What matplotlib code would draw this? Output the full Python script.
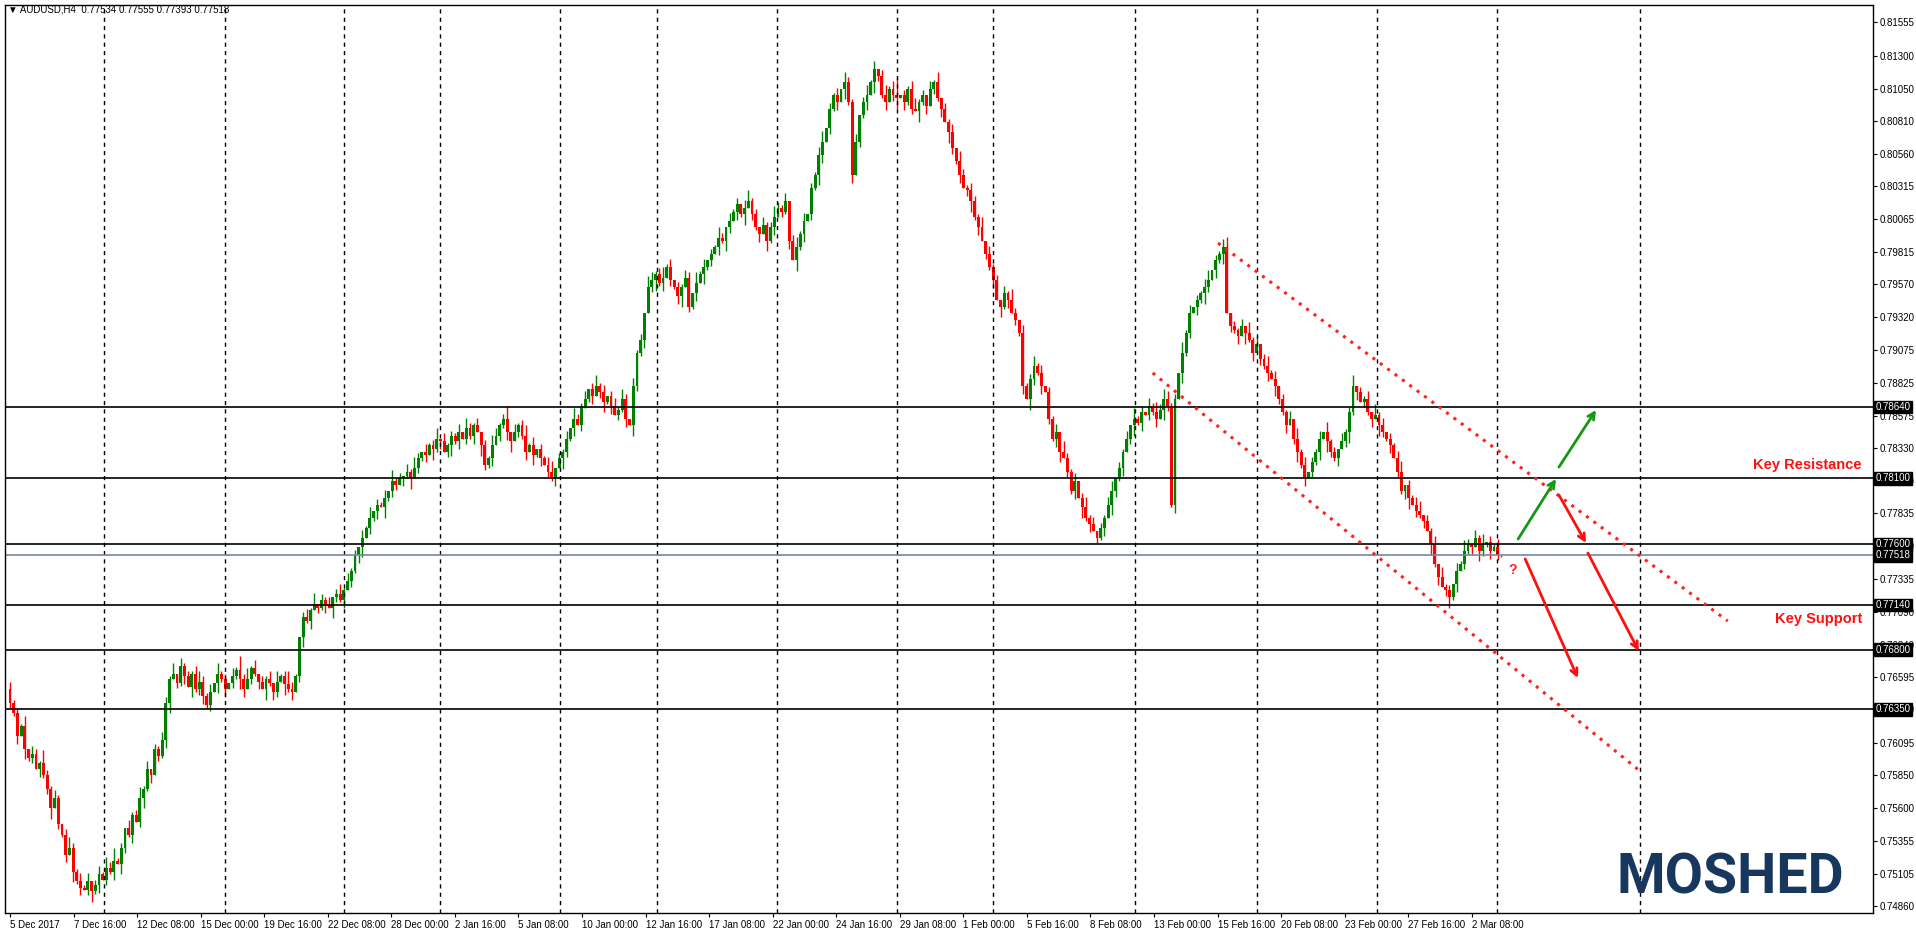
import matplotlib
matplotlib.use("Agg")
import matplotlib.pyplot as plt
import matplotlib.transforms as mtransforms

plt.rcParams["font.family"] = ["Liberation Sans", "DejaVu Sans"]

# closes in pips (x 0.0001), 4h bars from 5 Dec 2017
closes = [
    7640, 7632, 7615, 7622, 7605, 7598, 7601, 7590, 7594, 7585,
    7575, 7560, 7568, 7548, 7540, 7525, 7530, 7512, 7505, 7500,
    7498, 7505, 7497, 7502, 7510, 7506, 7515, 7512, 7520, 7518,
    7530, 7545, 7540, 7555, 7550, 7568, 7575, 7590, 7585, 7605,
    7600, 7612, 7640, 7658, 7662, 7655, 7668, 7660, 7652, 7662,
    7650, 7656, 7645, 7638, 7648, 7655, 7662, 7658, 7650, 7655,
    7660, 7665, 7658, 7650, 7658, 7666, 7662, 7656, 7650, 7658,
    7655, 7648, 7656, 7660, 7654, 7650, 7648, 7660, 7690, 7705,
    7702, 7710, 7715, 7712, 7718, 7714, 7712, 7720, 7722, 7718,
    7725, 7732, 7740, 7752, 7758, 7765, 7772, 7780, 7785, 7790,
    7788, 7795, 7800, 7808, 7805, 7810, 7812, 7815, 7810, 7818,
    7825, 7830, 7828, 7835, 7832, 7840, 7838, 7830, 7835, 7842,
    7838, 7845, 7840, 7848, 7842, 7850, 7845, 7835, 7820, 7825,
    7835, 7842, 7850, 7855, 7845, 7838, 7845, 7850, 7842, 7830,
    7835, 7828, 7832, 7825, 7820, 7815, 7810, 7818, 7825, 7830,
    7840, 7848, 7855, 7850, 7865, 7870, 7878, 7872, 7880, 7875,
    7868, 7872, 7865, 7858, 7862, 7870, 7855, 7850, 7880, 7905,
    7915, 7935, 7955, 7960, 7965, 7958, 7962, 7970, 7960, 7955,
    7948, 7955, 7962, 7940, 7950, 7958, 7965, 7970, 7975, 7980,
    7985, 7992, 7990, 8000, 8005, 8012, 8018, 8010, 8015, 8020,
    8010, 8000, 7995, 8002, 7990, 8000, 8008, 8015, 8012, 8020,
    7990, 7975, 7985, 7995, 8005, 8010, 8030, 8040, 8055, 8065,
    8075, 8090, 8100, 8095, 8105, 8110, 8095, 8040, 8065, 8085,
    8095, 8100, 8110, 8120, 8115, 8100, 8095, 8105, 8100, 8098,
    8100, 8095, 8105, 8090, 8088, 8095, 8100, 8092, 8105, 8110,
    8098, 8090, 8080, 8072, 8060, 8050, 8040, 8030, 8028, 8020,
    8008, 8000, 7990, 7980, 7970, 7960, 7945, 7940, 7950, 7945,
    7935, 7930, 7920, 7880, 7870, 7885, 7895, 7890, 7880, 7875,
    7855, 7840, 7845, 7830, 7825, 7815, 7800, 7808, 7795, 7788,
    7780, 7775, 7770, 7765, 7772, 7780, 7790, 7800, 7810, 7818,
    7830, 7840, 7850, 7855, 7852, 7860, 7858, 7865, 7860, 7855,
    7862, 7870, 7865, 7790, 7870, 7890, 7905, 7920, 7935, 7940,
    7945, 7950, 7955, 7960, 7968, 7975, 7980, 7985, 7935, 7925,
    7922, 7918, 7925, 7920, 7915, 7905, 7912, 7900, 7895, 7890,
    7885, 7880, 7870, 7860, 7850, 7855, 7840, 7830, 7820, 7810,
    7815, 7822, 7830, 7840, 7845, 7838, 7830, 7825, 7832, 7838,
    7845, 7860, 7880, 7875, 7868, 7870, 7860, 7855, 7858, 7850,
    7845, 7840, 7835, 7825, 7815, 7800, 7805, 7795, 7790, 7785,
    7782, 7778, 7770, 7760, 7745, 7735, 7728, 7725, 7720, 7730,
    7740, 7745, 7755, 7760, 7758, 7765, 7755, 7760, 7762, 7755,
    7758, 7752, 7752,
]
first_open = 7650
# wick lengths in units of 2 pips
wick_up = ("3121403215213102421313023142512031241302132140312134"
           "2130412031524130213041253102314021302413120314021304"
           "1203142031240312130421302143125031241302134021304213"
           "0241302314203120431241302132041302142031203412031242"
           "1302413021340213042130241302413702134120314021304213"
           "2140312031420312413021304213024130213402130412031424"
           "3120413021340213402130413024130213041302130412031240"
           "2130413021340213402130412031420314021304130213042130")
wick_dn = ("2130412031240213041302413021304213024130213402130412"
           "3120413021430213041320413024130213042130213402130412"
           "2031402130413024130213042130213402130413021304213021"
           "1302413021304213024130213402130412031420314021304130"
           "2130413021430213041302130421302403120413021304213024"
           "1302130413021304213021340213041302130421302413021304"
           "2130412031420314021304130213042130241302130421302413"
           "0213042130213402130413024130213042130213402130412031")

levels = [0.78640, 0.78100, 0.77600, 0.77140, 0.76800, 0.76350]
last_price = 0.77518
ytick_vals = [0.81555, 0.81300, 0.81050, 0.80810, 0.80560, 0.80315, 0.80065,
              0.79815, 0.79570, 0.79320, 0.79075, 0.78825, 0.78575, 0.78330,
              0.78080, 0.77835, 0.77590, 0.77335, 0.77090, 0.76840, 0.76595,
              0.76350, 0.76095, 0.75850, 0.75600, 0.75355, 0.75105, 0.74860]
date_labels = ["5 Dec 2017", "7 Dec 16:00", "12 Dec 08:00", "15 Dec 00:00",
               "19 Dec 16:00", "22 Dec 08:00", "28 Dec 00:00", "2 Jan 16:00",
               "5 Jan 08:00", "10 Jan 00:00", "12 Jan 16:00", "17 Jan 08:00",
               "22 Jan 00:00", "24 Jan 16:00", "29 Jan 08:00", "1 Feb 00:00",
               "5 Feb 16:00", "8 Feb 08:00", "13 Feb 00:00", "15 Feb 16:00",
               "20 Feb 08:00", "23 Feb 00:00", "27 Feb 16:00", "2 Mar 08:00"]
label_step = 17.13
separators = [25.3, 57.9, 89.9, 116, 148.2, 174.4, 206.7, 239, 265, 303.3,
              336, 368.4, 400.7, 439.3]

W, H = 1916, 934
px_per_bar = 3.71
x_left, x_right, y_top, y_bot = 5, 1873, 5, 913

fig = plt.figure(figsize=(W / 100, H / 100), dpi=100)
ax = fig.add_axes([x_left / W, (H - y_bot) / H, (x_right - x_left) / W,
                   (y_bot - y_top) / H])
ax.set_xlim(-1.35, (x_right - x_left) / px_per_bar - 1.35)
ax.set_ylim(0.74807, 0.81685)

n = len(closes)
opens = [first_open] + closes[:-1]
for i in range(n):
    o, c = opens[i] / 1e4, closes[i] / 1e4
    hi = max(o, c) + int(wick_up[i]) * 0.0002
    lo = min(o, c) - int(wick_dn[i]) * 0.0002
    col = "#008000" if c >= o else "#ff0000"
    ax.vlines(i, lo, hi, color=col, lw=1)
    ax.bar(i, max(abs(c - o), 0.00002), bottom=min(o, c), width=0.78,
           color=col, lw=0)

for s in separators:
    ax.axvline(s, color="black", lw=1, ls=(0, (3, 3)))
for lv in levels:
    ax.axhline(lv, color="black", lw=1.2)
ax.axhline(last_price, color="#778899", lw=1.2)

# channel
ax.plot([325.6, 463], [0.79882, 0.77019], color="#ff2020", lw=2.2,
        ls=(0, (1, 2)))
ax.plot([308, 439], [0.78898, 0.75890], color="#ff2020", lw=2.2,
        ls=(0, (1, 2)))

arrows = [
    ((406.5, 0.77640), (416.7, 0.78095), "#119911"),
    ((417.5, 0.78185), (427.5, 0.78617), "#119911"),
    ((417.5, 0.77973), (424.8, 0.77610), "#ff1010"),
    ((408.4, 0.77489), (422.6, 0.76587), "#ff1010"),
    ((425.3, 0.77534), (439.0, 0.76792), "#ff1010"),
]
for start, end, col in arrows:
    ax.annotate("", xy=end, xytext=start,
                arrowprops=dict(arrowstyle="->", color=col, lw=2,
                                mutation_scale=12, shrinkA=0, shrinkB=0))
ax.text(405, 0.77405, "?", color="#ff2020", fontsize=10, fontweight="bold",
        ha="center", va="center")

trans = mtransforms.blended_transform_factory(ax.transAxes, ax.transData)
ax.text(0.994, 0.7810 + 0.0005, "Key Resistance", transform=trans,
        color="#ff1010", fontsize=10.5, fontweight="bold", ha="right",
        va="bottom")
ax.text(0.994, 0.7714 - 0.0005, "Key Support", transform=trans,
        color="#ff1010", fontsize=10.5, fontweight="bold", ha="right",
        va="top")

# axes
ax.yaxis.tick_right()
ax.set_yticks(ytick_vals)
ax.set_yticklabels([f"{v:.5f}" for v in ytick_vals])
ax.tick_params(axis="y", labelsize=7, length=3, pad=1.5, direction="out")
ticks = [i * label_step for i in range(len(date_labels))]
ax.set_xticks(ticks)
ax.set_xticklabels(date_labels, ha="left")
ax.tick_params(axis="x", labelsize=7, length=3, pad=2)
for sp in ax.spines.values():
    sp.set_color("black")
    sp.set_linewidth(1)

for lv in levels + [last_price]:
    ax.text(1.0015, lv, f"{lv:.5f}", transform=trans, fontsize=7,
            color="white", va="center", ha="left",
            bbox=dict(boxstyle="square,pad=0.15", fc="black", ec="black"))

fig.text(8 / W, 1 - 10 / H, "\u25bc AUDUSD,H4  0.77534 0.77555 0.77393 0.77518",
         fontsize=7, va="center", ha="left")
fig.text(1617 / W, 1 - 893 / H, "MOSHED", fontsize=40, fontweight="bold",
         color="#17375e", family="Roboto", ha="left", va="baseline")

fig.savefig("out.png", dpi=100, facecolor="white")
